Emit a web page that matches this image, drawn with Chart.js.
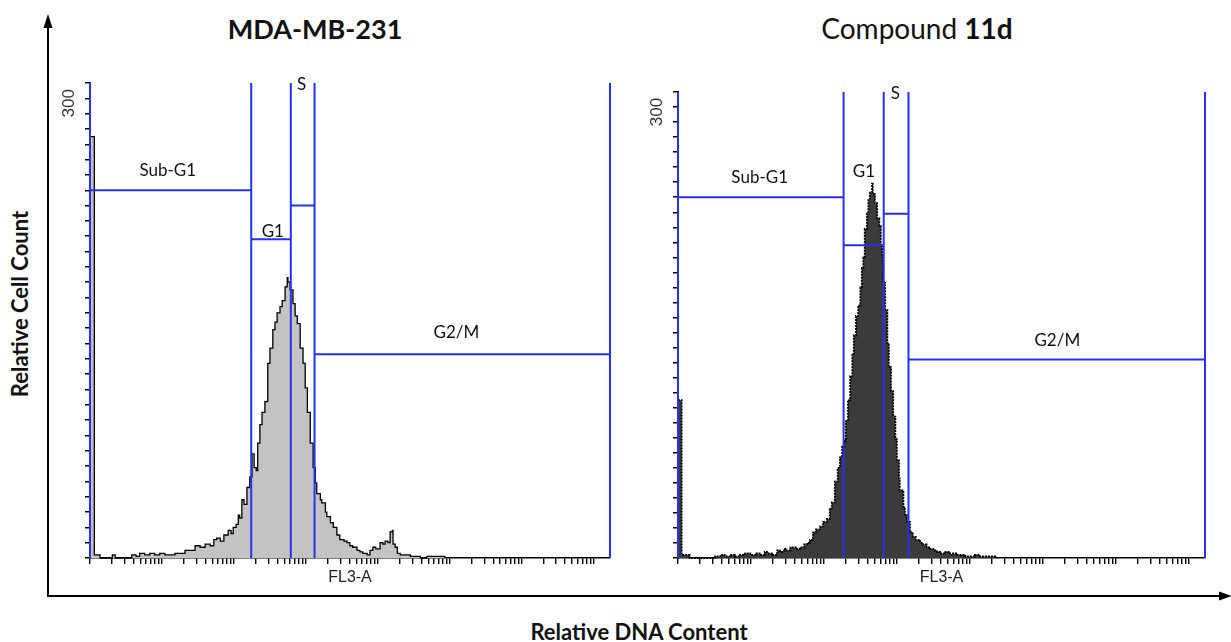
<!DOCTYPE html>
<html>
<head>
<meta charset="utf-8">
<script src="https://cdn.jsdelivr.net/npm/chart.js@4/dist/chart.umd.min.js"></script>
<style>
  body { margin: 0; background: #fff; }
  #wrap { position: relative; width: 1231px; height: 642px; overflow: hidden; font-family: Lato, "Open Sans", sans-serif; color: #111; }
  .panel { position: absolute; }
  .txt { position: absolute; white-space: nowrap; line-height: 1; }
</style>
</head>
<body>
<div id="wrap">
  <svg width="1231" height="642" style="position:absolute;left:0;top:0">
    <line x1="48" y1="597" x2="48" y2="26" stroke="#000" stroke-width="2"/>
    <polygon points="48,14 43.5,28 52.5,28" fill="#000"/>
    <line x1="47" y1="596" x2="1222" y2="596" stroke="#000" stroke-width="2"/>
    <polygon points="1232,596 1219,591.5 1219,600.5" fill="#000"/>
  </svg>

  <div class="txt" style="left:315px;top:28px;transform:translate(-50%,-50%);font-size:27px;font-weight:700">MDA-MB-231</div>
  <div class="txt" style="left:917px;top:28px;transform:translate(-50%,-50%);font-size:28px">Compound <b>11d</b></div>
  <div class="txt" style="left:20px;top:304px;transform:translate(-50%,-50%) rotate(-90deg);font-size:22px;font-weight:700">Relative Cell Count</div>
  <div class="txt" style="left:639px;top:632px;transform:translate(-50%,-50%);font-size:22px;font-weight:700">Relative DNA Content</div>

  <div class="panel" style="left:40px;top:70px;width:590px;height:530px"><canvas id="mda" width="590" height="530"></canvas></div>
  <div class="panel" style="left:628px;top:70px;width:600px;height:530px"><canvas id="cpd" width="600" height="530"></canvas></div>
</div>

<script>
// ── Data (x values are log10 of FL3-A, counts are events per channel) ──

const FL3_MAX = 16777215;          // top of the FL3-A scale
const COUNT_MAX = 310;
const countTickStep = 10;
const countTickLabels = [300];
const tickDecades = [0, 1, 2, 3, 4, 5, 6, 7];
const tickMantissas = [1, 2, 3, 4, 5, 6, 7, 8, 9];

const gateNames = ['Sub-G1', 'G1', 'S', 'G2/M'];

// MDA-MB-231 (untreated)
const mdaLogFL3 = [
  0.00, 0.06, 0.14, 0.25, 0.31, 0.35, 0.49, 0.58, 0.64, 0.69,
  0.76, 0.83, 0.90, 0.97, 1.04, 1.11, 1.18, 1.25, 1.32, 1.39,
  1.46, 1.53, 1.60, 1.67, 1.72, 1.76, 1.81, 1.86, 1.92, 1.96,
  1.99, 2.03, 2.06, 2.08, 2.11, 2.14, 2.18, 2.22, 2.25, 2.28,
  2.31, 2.33, 2.36, 2.39, 2.43, 2.47, 2.50, 2.54, 2.57, 2.60,
  2.64, 2.67, 2.71, 2.74, 2.75, 2.78, 2.82, 2.85, 2.88, 2.92,
  2.96, 2.99, 3.02, 3.06, 3.10, 3.13, 3.15, 3.20, 3.22, 3.27,
  3.29, 3.34, 3.38, 3.43, 3.47, 3.53, 3.57, 3.61, 3.65, 3.71,
  3.75, 3.79, 3.85, 3.89, 3.93, 3.97, 4.03, 4.07, 4.10, 4.14,
  4.17, 4.20, 4.21, 4.24, 4.27, 4.31, 4.38, 4.45, 4.52, 4.59,
  4.68, 4.77, 4.86, 4.93
];
const mdaCounts = [
  275, 2, 0, 0, 2, 0, 0, 2, 1, 3,
  2, 3, 2, 3, 2, 2, 3, 3, 5, 5,
  8, 7, 9, 8, 12, 13, 11, 15, 18, 16,
  20, 22, 28, 26, 38, 35, 46, 53, 68, 59,
  57, 75, 87, 95, 102, 127, 137, 149, 154, 160,
  164, 168, 177, 183, 180, 175, 166, 158, 153, 137,
  127, 111, 95, 75, 59, 49, 42, 38, 36, 30,
  27, 23, 20, 15, 12, 11, 10, 8, 7, 5,
  4, 3, 2, 5, 7, 6, 10, 9, 11, 10,
  17, 18, 9, 7, 3, 2, 2, 1, 1, 0,
  1, 1, 1, 0
];
const mdaGateEdges = [0, 2.24, 2.79, 3.12, 7.2248];
const mdaGateLevels = [240, 208, 230, 133];
const mdaLabelX = [1.08, 2.54, 2.94, 5.09];
const mdaLabelY = [253, 213, 309, 147];

// Compound 11d
const cpdLogFL3 = [
  0.00, 0.05, 0.16, 0.30, 0.51, 0.58, 0.64, 0.71, 0.78, 0.85,
  0.92, 0.99, 1.06, 1.12, 1.19, 1.22, 1.30, 1.36, 1.40, 1.45,
  1.49, 1.54, 1.58, 1.63, 1.67, 1.73, 1.77, 1.81, 1.85, 1.89,
  1.95, 1.99, 2.04, 2.08, 2.11, 2.15, 2.19, 2.22, 2.25, 2.28,
  2.30, 2.33, 2.36, 2.39, 2.41, 2.44, 2.47, 2.50, 2.52, 2.54,
  2.56, 2.59, 2.61, 2.63, 2.66, 2.67, 2.70, 2.73, 2.76, 2.78,
  2.80, 2.81, 2.84, 2.87, 2.89, 2.92, 2.95, 2.98, 3.00, 3.03,
  3.04, 3.09, 3.11, 3.14, 3.18, 3.22, 3.26, 3.32, 3.36, 3.41,
  3.46, 3.50, 3.55, 3.59, 3.65, 3.69, 3.73, 3.77, 3.83, 3.87,
  3.94, 4.00, 4.07, 4.14, 4.21, 4.28, 4.35
];
const cpdCounts = [
  105, 2, 0, 0, 1, 2, 1, 2, 1, 2,
  3, 2, 3, 2, 4, 3, 2, 5, 4, 6,
  5, 7, 7, 6, 7, 9, 10, 12, 17, 19,
  21, 24, 26, 33, 37, 51, 60, 67, 74, 78,
  91, 105, 121, 136, 148, 161, 168, 180, 193, 200,
  219, 229, 238, 243, 249, 242, 236, 226, 221, 208,
  200, 183, 165, 143, 127, 111, 94, 79, 65, 53,
  45, 34, 29, 24, 17, 14, 12, 10, 9, 7,
  6, 5, 4, 3, 4, 4, 2, 3, 2, 2,
  1, 1, 2, 1, 1, 1, 0
];
const cpdGateEdges = [0, 2.27, 2.82, 3.16, 7.2248];
const cpdGateLevels = [240, 208, 229, 132];
const cpdLabelX = [1.12, 2.55, 2.98, 5.20];
const cpdLabelY = [253, 257, 309, 145];

// ── Helpers ──────────────────────────────────────────────────

function histPoints(logs, counts) {
  return logs.map((d, i) => ({ x: 10 ** d, y: counts[i] }));
}

// vertical marker lines for every gate edge, then the horizontal bar of each gate
function gatePoints(edges, levels) {
  const pts = [];
  edges.forEach(e => {
    pts.push({ x: 10 ** e, y: COUNT_MAX }, { x: 10 ** e, y: 0 }, { x: 10 ** e, y: null });
  });
  levels.forEach((lv, i) => {
    pts.push({ x: 10 ** edges[i], y: lv }, { x: 10 ** edges[i + 1], y: lv }, { x: 10 ** edges[i + 1], y: null });
  });
  return pts;
}

const xTickValues = [];
tickDecades.forEach(dec => tickMantissas.forEach(m => {
  const v = m * 10 ** dec;
  if (v <= FL3_MAX) xTickValues.push(v);
}));

const gateText = {
  id: 'gateText',
  afterDatasetsDraw(chart, args, opts) {
    const { ctx, scales: { x, y } } = chart;
    ctx.save();
    ctx.fillStyle = '#111';
    ctx.textAlign = 'center';
    ctx.textBaseline = 'middle';
    ctx.font = '17px Lato';
    gateNames.forEach((n, i) => {
      ctx.fillText(n, x.getPixelForValue(10 ** opts.labelX[i]), y.getPixelForValue(opts.labelY[i]));
    });
    // rotated count label(s) on the y axis
    ctx.font = '17px "Liberation Sans"';
    ctx.fillStyle = '#333';
    countTickLabels.forEach(v => {
      ctx.save();
      ctx.translate(x.left - 21, y.getPixelForValue(v) + 5);
      ctx.rotate(-Math.PI / 2);
      ctx.fillText(String(v), 0, 0);
      ctx.restore();
    });
    ctx.restore();
  },
};

function makePanel(id, cfg) {
  return new Chart(document.getElementById(id), {
    type: 'line',
    data: {
      datasets: [
        {
          label: 'gates',
          data: gatePoints(cfg.edges, cfg.levels),
          borderColor: '#2333ee',
          borderWidth: 2,
          pointRadius: 0,
          spanGaps: false,
          fill: false,
          clip: 4,
          order: 0,
        },
        {
          label: 'FL3-A',
          data: histPoints(cfg.logs, cfg.counts),
          stepped: true,
          borderColor: '#000',
          borderWidth: cfg.lineWidth,
          borderDash: cfg.dash,
          backgroundColor: cfg.fillColor,
          fill: 'origin',
          pointRadius: 0,
          clip: 3,
          order: 1,
        },
      ],
    },
    options: {
      responsive: false,
      animation: false,
      events: [],
      layout: { padding: { top: cfg.padTop, right: cfg.padRight, left: 0, bottom: 0 } },
      plugins: {
        legend: { display: false },
        tooltip: { enabled: false },
        gateText: { labelX: cfg.labelX, labelY: cfg.labelY },
      },
      scales: {
        x: {
          type: 'logarithmic',
          min: 1,
          max: FL3_MAX,
          afterBuildTicks(s) { s.ticks = xTickValues.map(v => ({ value: v })); },
          ticks: { display: false, autoSkip: false },
          grid: { drawOnChartArea: false, drawTicks: true, tickLength: 6, color: '#000', lineWidth: 1.4 },
          border: { color: '#000', width: 1.5 },
          title: {
            display: true, text: 'FL3-A', color: '#222',
            font: { family: '"Liberation Sans", Arial, sans-serif', size: 16 },
            padding: { top: 0, bottom: 13 },
          },
          afterFit(s) { s.height = 42; },
        },
        y: {
          type: 'linear',
          min: 0,
          max: COUNT_MAX,
          ticks: { display: false, stepSize: countTickStep },
          grid: { drawOnChartArea: false, drawTicks: true, tickLength: 5, color: '#000', lineWidth: 1.5 },
          border: { color: '#000', width: 2 },
          afterFit(s) { s.width = 50; },
        },
      },
    },
    plugins: [gateText],
  });
}

makePanel('mda', {
  logs: mdaLogFL3, counts: mdaCounts,
  edges: mdaGateEdges, levels: mdaGateLevels,
  labelX: mdaLabelX, labelY: mdaLabelY,
  fillColor: '#c3c3c3', lineWidth: 1.3, dash: [],
  padTop: 13, padRight: 20,
});

makePanel('cpd', {
  logs: cpdLogFL3, counts: cpdCounts,
  edges: cpdGateEdges, levels: cpdGateLevels,
  labelX: cpdLabelX, labelY: cpdLabelY,
  fillColor: '#3b3b3b', lineWidth: 1.8, dash: [2, 1],
  padTop: 22, padRight: 23,
});
</script>
</body>
</html>
